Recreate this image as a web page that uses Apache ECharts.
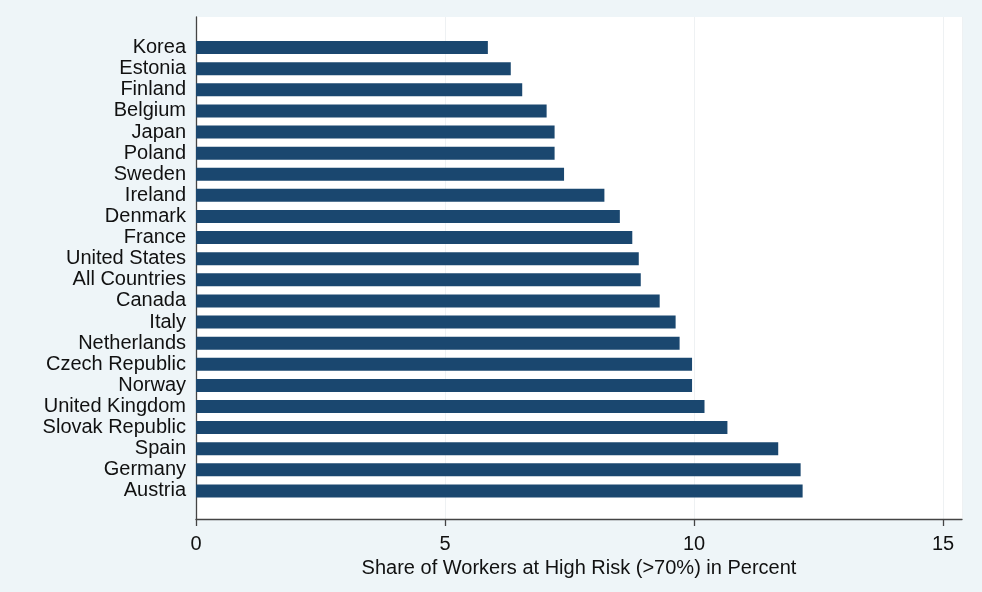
<!DOCTYPE html>
<html>
<head>
<meta charset="utf-8">
<script src="https://cdn.jsdelivr.net/npm/echarts@6/dist/echarts.min.js"></script>
<style>html,body{margin:0;padding:0;background:#eef5f8;}#c{width:982px;height:592px;}</style>
</head>
<body>
<div id="c"></div>
<script>
const countries = ["Korea","Estonia","Finland","Belgium","Japan","Poland","Sweden","Ireland","Denmark","France","United States","All Countries","Canada","Italy","Netherlands","Czech Republic","Norway","United Kingdom","Slovak Republic","Spain","Germany","Austria"];
const shareHighRisk = [5.86,6.32,6.55,7.04,7.2,7.2,7.39,8.2,8.51,8.76,8.89,8.93,9.31,9.63,9.71,9.96,9.96,10.21,10.67,11.69,12.14,12.18];
const xTicks = [0,5,10,15];
const xTitle = "Share of Workers at High Risk (>70%) in Percent";

const font = "'Liberation Sans', Arial, sans-serif";
const xMax = 15.38;
const chart = echarts.init(document.getElementById('c'));
chart.setOption({
  backgroundColor: '#eef5f8',
  animation: false,
  grid: [
    {left: 196, top: 17, width: 766, height: 502, show: true, backgroundColor: '#ffffff', borderWidth: 0},
    {left: 196, top: 37, width: 766, height: 464.5}
  ],
  xAxis: [
    {
      gridIndex: 0, type: 'value', min: 0, max: xMax, interval: 5,
      name: xTitle, nameLocation: 'middle', nameGap: 37,
      nameTextStyle: {fontFamily: font, fontSize: 20, color: '#111'},
      axisLine: {show: true, lineStyle: {color: '#444', width: 1.3}},
      axisTick: {show: true, length: 7, lineStyle: {color: '#444', width: 1.3}},
      axisLabel: {fontFamily: font, fontSize: 20, color: '#111', margin: 15,
        showMaxLabel: false,
        formatter: v => xTicks.includes(v) ? String(v) : ''},
      splitLine: {show: true, lineStyle: {color: '#eef1f3', width: 1}}
    },
    {gridIndex: 1, type: 'value', min: 0, max: xMax, show: false}
  ],
  yAxis: [
    {gridIndex: 0, type: 'value', min: 0, max: 1,
      axisLine: {show: true, lineStyle: {color: '#444', width: 1.3}},
      axisTick: {show: false}, axisLabel: {show: false}, splitLine: {show: false}},
    {gridIndex: 1, type: 'category', data: countries, inverse: true,
      axisLine: {show: false}, axisTick: {show: false},
      axisLabel: {fontFamily: font, fontSize: 20, color: '#111', margin: 10, interval: 0}}
  ],
  series: [{
    type: 'bar', xAxisIndex: 1, yAxisIndex: 1,
    data: shareHighRisk, barWidth: 13,
    itemStyle: {color: '#1a476f'}
  }]
});
</script>
</body>
</html>
